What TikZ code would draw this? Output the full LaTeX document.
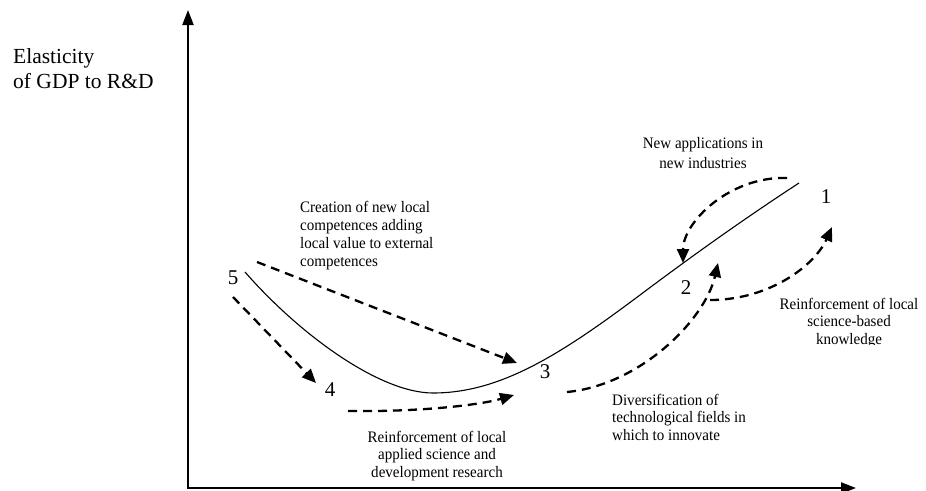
\documentclass[tikz,border=0pt]{standalone}
\usepackage{fontspec}
\setmainfont{Liberation Serif}
\newfontfamily\labfont[FakeStretch=0.94]{Liberation Serif}
\usetikzlibrary{arrows.meta}
\begin{document}
\begin{tikzpicture}[x=1pt,y=-1pt,
  lab/.style={inner sep=0pt, font=\labfont\fontsize{16}{17.5}\selectfont},
  ylab/.style={inner sep=0pt, font=\fontsize{21.5}{25}\selectfont},
  num/.style={inner sep=0pt, font=\fontsize{21}{24}\selectfont},
  axis/.style={line width=2.2pt, {Triangle[length=15pt,width=11pt]}-{Triangle[length=15pt,width=11pt]}},
  dasharr/.style={line width=2.3pt, dash pattern=on 9pt off 6pt, -{Triangle[length=14pt,width=12pt]}},
  curvestyle/.style={line width=1.1pt}]
\path[use as bounding box] (0,0) rectangle (926,490);
% axes
\coordinate (O) at (188,488);
\coordinate (ytop) at (188,10);
\coordinate (xend) at (856,488);
\draw[axis] (ytop) -- (O) -- (xend);
\node[ylab, anchor=base west, align=left] (ylabel) at (13,88) {Elasticity\\of GDP to R\&D};
% curve
\coordinate (c5) at (245,272);
\coordinate (cmin) at (433,393);
\coordinate (cmid) at (640,295);
\coordinate (c1) at (799,183);
\draw[curvestyle] (c5) .. controls (300,335) and (380,393) .. (cmin)
  .. controls (500,393) and (560,355) .. (cmid)
  .. controls (700,250) and (750,215) .. (c1);
% numbers
\node[num] (n1) at (826,197) {1};
\node[num] (n2) at (686,288) {2};
\node[num] (n3) at (545,372) {3};
\node[num] (n4) at (330,390) {4};
\node[num] (n5) at (233,278) {5};
% dashed arrows
\coordinate (a1s) at (787,178);  \coordinate (a1e) at (683,263);
\coordinate (a2s) at (710,300);  \coordinate (a2e) at (832,227);
\coordinate (a3s) at (567,392);  \coordinate (a3e) at (718,263);
\coordinate (a4s) at (348,411);  \coordinate (a4e) at (514,395);
\coordinate (a5s) at (233,297);  \coordinate (a5e) at (316,383);
\coordinate (a6s) at (257,262);  \coordinate (a6e) at (517,363);
\draw[dasharr] (a1s) .. controls (730,176) and (683,222) .. (a1e);
\draw[dasharr] (a2s) .. controls (770,300) and (815,265) .. (a2e);
\draw[dasharr] (a3s) .. controls (640,385) and (705,320) .. (a3e);
\draw[dasharr] (a4s) .. controls (420,412) and (480,405) .. (a4e);
\draw[dasharr] (a5s) -- (a5e);
\draw[dasharr] (a6s) -- (a6e);
% texts (base anchor = baseline of last line)
\node[lab, anchor=base west, align=left, font=\labfont\fontsize{16}{18}\selectfont] (tcreate) at (300,266)
  {Creation of new local\\competences adding\\local value to external\\competences};
\node[lab, anchor=base, align=center, font=\labfont\fontsize{16}{20}\selectfont] (tnewapp) at (703,168)
  {New applications in\\new industries};
\begin{scope}
  \clip (700,0) rectangle (926,344);
  \node[lab, anchor=base, align=center] (treinf1) at (849,344)
    {Reinforcement of local\\science-based\\knowledge};
\end{scope}
\node[lab, anchor=base west, align=left] (tdivers) at (612,440)
  {Diversification of\\technological fields in\\which to innovate};
\node[lab, anchor=base, align=center] (treinf2) at (437,477)
  {Reinforcement of local\\applied science and\\development research};
\end{tikzpicture}
\end{document}
